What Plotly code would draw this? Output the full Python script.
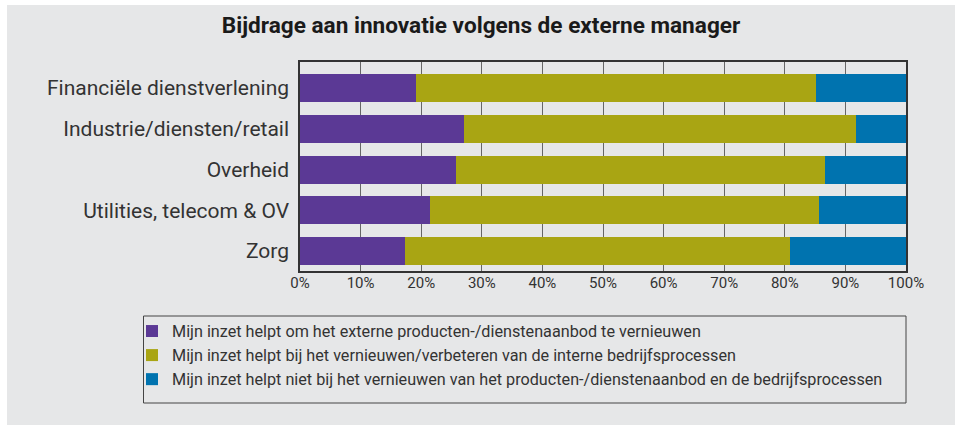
import plotly.graph_objects as go

categories = ["Financiële dienstverlening", "Industrie/diensten/retail", "Overheid",
              "Utilities, telecom & OV", "Zorg"]
series_names = [
    "Mijn inzet helpt om het externe producten-/dienstenaanbod te vernieuwen",
    "Mijn inzet helpt bij het vernieuwen/verbeteren van de interne bedrijfsprocessen",
    "Mijn inzet helpt niet bij het vernieuwen van het producten-/dienstenaanbod en de bedrijfsprocessen",
]
extern = [19.1, 27.0, 25.8, 21.5, 17.4]
intern = [66.0, 64.7, 60.9, 64.2, 63.4]
niet = [14.9, 8.3, 13.3, 14.3, 19.2]
colors = ["#5b3995", "#a9a513", "#0073af"]
x_ticks = [0, 10, 20, 30, 40, 50, 60, 70, 80, 90, 100]
x_tick_labels = ["0%", "10%", "20%", "30%", "40%", "50%", "60%", "70%", "80%", "90%", "100%"]

BG = "#e6e7e8"
FONT = "Roboto"

fig = go.Figure()
for i, (name, vals, col) in enumerate(zip(series_names, [extern, intern, niet], colors)):
    fig.add_trace(go.Bar(
        y=categories, x=vals, name=name, orientation="h",
        legendgroup="g%d" % i,
        marker=dict(color=col, line=dict(width=0)),
    ))

# plot area in pixels: x 300..906, y 62..271
L, R, T, B = 300, 906, 62, 271
W, H = 960, 426
def px_x(p):
    return (p - L) / (R - L)
def px_y(p):
    return (B - p) / (B - T)

shapes = [
    dict(type="rect", xref="paper", yref="paper", layer="below",
         x0=px_x(7), x1=px_x(955), y0=px_y(425), y1=px_y(5),
         fillcolor=BG, line=dict(width=0)),
    dict(type="rect", xref="paper", yref="paper", layer="above",
         x0=px_x(143.5), x1=px_x(906), y0=px_y(403), y1=px_y(316),
         fillcolor="rgba(0,0,0,0)", line=dict(color="#444444", width=1)),
]

fig.update_layout(
    width=W, height=H,
    barmode="stack", bargap=0.31,
    paper_bgcolor="white", plot_bgcolor="rgba(0,0,0,0)",
    margin=dict(l=L, r=W - R, t=T, b=H - B, pad=0),
    title=dict(text="<b>Bijdrage aan innovatie volgens de externe manager</b>",
               x=px_x(481), xref="paper", xanchor="center",
               y=1 - 25.5 / H, yanchor="middle",
               font=dict(family=FONT, size=22.6, color="#1a1a1a")),
    font=dict(family=FONT, color="#333333"),
    xaxis=dict(range=[0, 100], tickmode="array", tickvals=x_ticks, ticktext=x_tick_labels,
               showgrid=True, gridcolor="#666666", gridwidth=1,
               showline=True, linecolor="#333333", linewidth=1.5, mirror=True,
               zeroline=False, ticks="", ticklabelstandoff=-3,
               tickfont=dict(size=15, color="#333333"),
               fixedrange=True),
    yaxis=dict(type="category", categoryorder="array", categoryarray=categories,
               range=[4.49, -0.64], showgrid=False,
               showline=True, linecolor="#333333", linewidth=1.5, mirror=True,
               ticks="outside", ticklen=5, tickcolor="rgba(0,0,0,0)",
               tickfont=dict(size=21, color="#333333"), fixedrange=True),
    legend=dict(x=px_x(132), xanchor="left", y=px_y(314), yanchor="top",
                orientation="v", traceorder="normal", tracegroupgap=1,
                bgcolor="rgba(0,0,0,0)", borderwidth=0,
                font=dict(family=FONT, size=16.2, color="#333333"),
                itemsizing="constant"),
    shapes=shapes,
    showlegend=True,
)

fig.write_html("out.html",
               config={"displayModeBar": False, "staticPlot": False},
               post_script="document.body.style.margin='0';document.body.style.overflow='hidden';")
